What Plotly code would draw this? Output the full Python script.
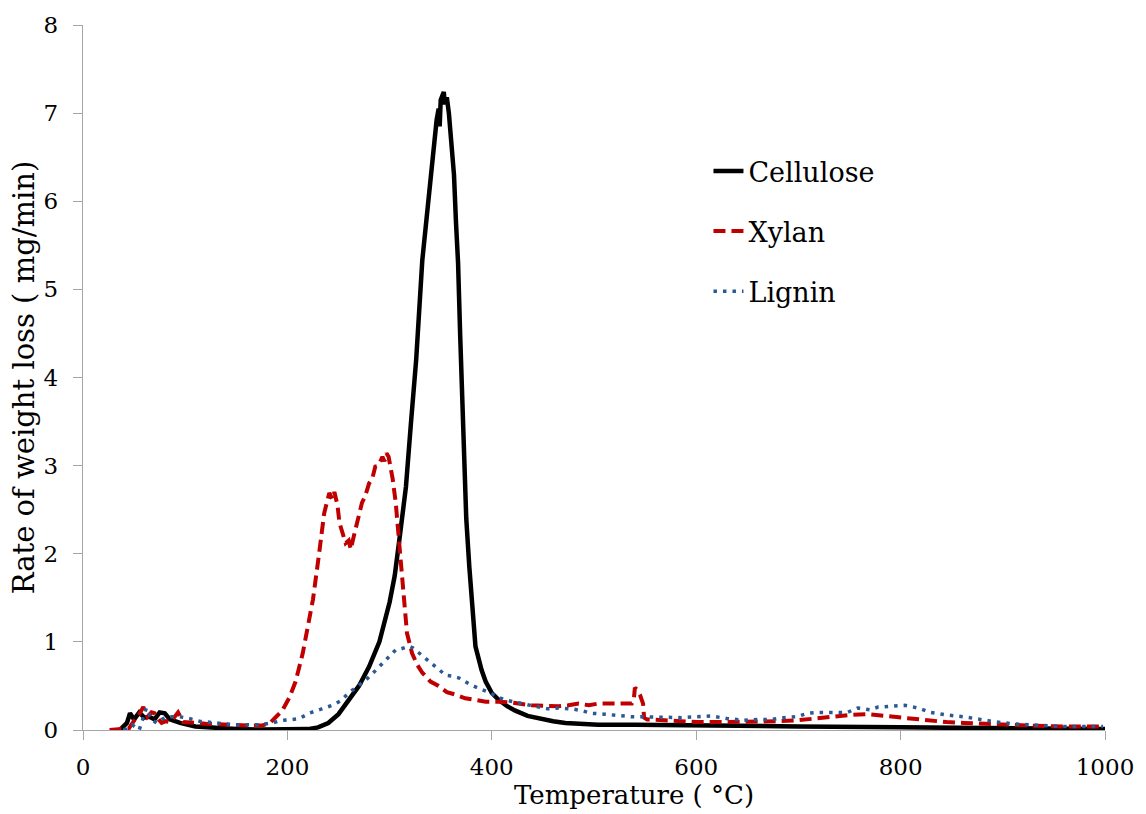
import plotly.graph_objects as go

# ---- data ----
cell_T = [36, 43, 46, 50, 55, 60, 65, 70, 75, 80, 85, 95, 110, 130, 150, 175, 200, 220, 230, 240,
          250, 260, 270, 280, 290, 300, 305, 310, 316, 321, 326, 332, 338, 343, 346, 348, 349, 350,
          352, 353, 354, 356, 358, 360, 363, 365, 367, 369, 371, 372, 375, 378, 380, 382, 384, 390,
          394, 400, 407, 415, 423, 435, 446, 460, 472, 490, 504, 540, 600, 700, 800, 900, 1000]
cell_v = [0, 0.08, 0.19, 0.12, 0.2, 0.14, 0.15, 0.12, 0.2, 0.19, 0.12, 0.08, 0.04, 0.02, 0.01, 0.005,
          0.005, 0.01, 0.03, 0.08, 0.18, 0.34, 0.5, 0.72, 1.0, 1.45, 1.75, 2.2, 2.76, 3.5, 4.2, 5.33,
          6.05, 6.6, 6.92, 7.05, 6.85, 7.15, 7.2, 7.24, 7.1, 7.18, 7.0, 6.7, 6.3, 5.75, 5.3, 4.5,
          3.9, 3.3, 2.4, 1.85, 1.5, 1.15, 0.95, 0.68, 0.55, 0.42, 0.34, 0.27, 0.22, 0.16, 0.13, 0.1,
          0.08, 0.07, 0.06, 0.06, 0.05, 0.04, 0.03, 0.02, 0.01]

xyl_T = [26, 45, 49, 55, 59, 63, 67, 70, 74, 77, 81, 85, 89, 93, 98, 105, 111, 120, 135, 150, 165,
         175, 183, 189, 195, 202, 208, 215, 220, 225, 231, 236, 241, 244, 246, 249, 251, 254, 257,
         260, 262, 265, 267, 270, 273, 276, 280, 283, 286, 289, 293, 295, 297, 299, 301, 303, 306,
         309, 314, 317, 322, 327, 332, 340, 348, 356, 365, 374, 385, 394, 407, 420, 439, 452, 465,
         475, 485, 495, 504, 520, 537, 539, 540, 542, 545, 548, 549, 552, 560, 569, 585, 601, 620,
         650, 680, 699, 715, 731, 750, 767, 785, 797, 815, 829, 845, 862, 894, 926, 960, 998]
xyl_v = [0, 0.02, 0.09, 0.18, 0.26, 0.15, 0.2, 0.19, 0.12, 0.08, 0.1, 0.09, 0.14, 0.2, 0.09, 0.09,
         0.08, 0.07, 0.06, 0.05, 0.05, 0.05, 0.08, 0.15, 0.22, 0.37, 0.55, 0.87, 1.15, 1.48, 2.0,
         2.46, 2.69, 2.62, 2.7, 2.55, 2.35, 2.25, 2.12, 2.15, 2.05, 2.2, 2.3, 2.42, 2.58, 2.65, 2.8,
         2.85, 2.99, 3.0, 3.1, 3.05, 3.14, 3.1, 2.99, 2.85, 2.58, 2.16, 1.55, 1.1, 0.87, 0.74, 0.65,
         0.55, 0.5, 0.43, 0.4, 0.36, 0.34, 0.32, 0.32, 0.31, 0.28, 0.27, 0.27, 0.28, 0.3, 0.28, 0.3,
         0.3, 0.3, 0.35, 0.48, 0.46, 0.4, 0.3, 0.14, 0.12, 0.11, 0.11, 0.1, 0.09, 0.09, 0.09, 0.1,
         0.11, 0.13, 0.15, 0.17, 0.18, 0.16, 0.14, 0.12, 0.1, 0.09, 0.08, 0.06, 0.05, 0.04, 0.04]

lig_T = [40, 48, 55, 62, 67, 72, 77, 82, 90, 95, 104, 114, 130, 146, 160, 173, 185, 195, 205, 212,
         221, 232, 244, 252, 260, 268, 277, 285, 293, 300, 306, 311, 316, 319, 323, 329, 335, 341,
         348, 355, 362, 368, 374, 380, 388, 397, 405, 413, 425, 439, 447, 455, 465, 478, 488, 497,
         510, 525, 537, 550, 569, 585, 601, 614, 630, 647, 660, 674, 686, 698, 709, 720, 735, 748,
         758, 765, 770, 778, 787, 796, 804, 813, 820, 829, 845, 862, 878, 894, 910, 926, 945, 960,
         980, 998]
lig_v = [0, 0.06, 0.0, 0.25, 0.12, 0.08, 0.12, 0.15, 0.15, 0.15, 0.13, 0.1, 0.08, 0.06, 0.06, 0.06,
         0.08, 0.11, 0.12, 0.13, 0.19, 0.23, 0.28, 0.33, 0.42, 0.49, 0.57, 0.66, 0.76, 0.84, 0.91,
         0.92, 0.94, 0.95, 0.93, 0.87, 0.82, 0.76, 0.69, 0.62, 0.61, 0.59, 0.55, 0.51, 0.47, 0.43,
         0.38, 0.34, 0.31, 0.28, 0.26, 0.24, 0.25, 0.24, 0.22, 0.19, 0.18, 0.16, 0.15, 0.15, 0.14,
         0.14, 0.15, 0.16, 0.13, 0.11, 0.12, 0.12, 0.14, 0.15, 0.19, 0.2, 0.2, 0.2, 0.25, 0.24, 0.23,
         0.26, 0.27, 0.28, 0.28, 0.26, 0.24, 0.2, 0.17, 0.15, 0.12, 0.09, 0.07, 0.06, 0.05, 0.04,
         0.04, 0.04]

x_ticks = [0, 200, 400, 600, 800, 1000]
y_ticks = [0, 1, 2, 3, 4, 5, 6, 7, 8]
x_title = "Temperature ( °C)"
y_title = "Rate of weight loss ( mg/min)"

FONT = "DejaVu Serif"
AXIS_GRAY = "#A6A6A6"

fig = go.Figure()
fig.add_trace(go.Scatter(x=cell_T, y=cell_v, mode="lines", name="Cellulose", legendgroup="a",
                         line=dict(color="black", width=4.5)))
fig.add_trace(go.Scatter(x=xyl_T, y=xyl_v, mode="lines", name="Xylan", legendgroup="b",
                         line=dict(color="#C00000", width=4, dash="12px,6px")))
fig.add_trace(go.Scatter(x=lig_T, y=lig_v, mode="lines", name="Lignin", legendgroup="c",
                         line=dict(color="#2A5A94", width=3.5, dash="3.5px,6px")))

fig.update_layout(
    width=1146, height=814,
    margin=dict(l=83, r=37, t=25, b=84),
    paper_bgcolor="white", plot_bgcolor="white",
    font=dict(family=FONT, color="black", size=23),
    legend=dict(x=0.612, y=0.827, xanchor="left", yanchor="top",
                font=dict(family=FONT, size=27, color="black"),
                bgcolor="rgba(0,0,0,0)", tracegroupgap=22),
    xaxis=dict(range=[0, 1000], tickvals=x_ticks, showgrid=False, zeroline=False,
               showline=True, linecolor=AXIS_GRAY, linewidth=1.3,
               ticks="outside", ticklen=9, tickcolor=AXIS_GRAY, tickwidth=1.3,
               tickfont=dict(family=FONT, size=23), ticklabelstandoff=7),
    yaxis=dict(range=[0, 8], tickvals=y_ticks, showgrid=False, zeroline=False,
               showline=True, linecolor=AXIS_GRAY, linewidth=1.3,
               ticks="outside", ticklen=9, tickcolor=AXIS_GRAY, tickwidth=1.3,
               tickfont=dict(family=FONT, size=23), ticklabelstandoff=10,
               title=dict(text=y_title, font=dict(family=FONT, size=29), standoff=0)),
    annotations=[dict(text=x_title, xref="paper", yref="paper", x=0.539, y=0,
                      xanchor="center", yanchor="middle", yshift=-65, showarrow=False,
                      font=dict(family=FONT, size=26, color="black"))],
)

fig.write_html("out.html")
